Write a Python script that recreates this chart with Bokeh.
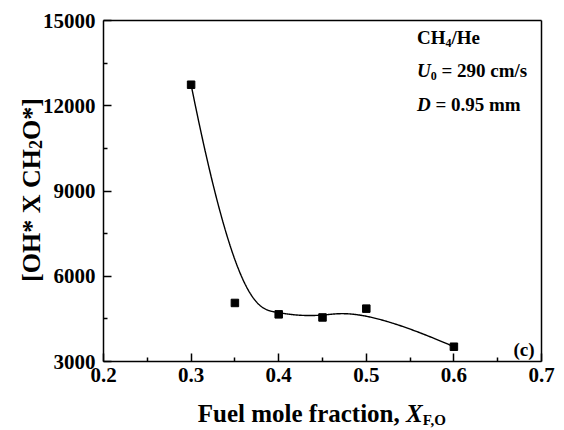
import numpy as np
from bokeh.plotting import figure
from bokeh.models import Label, FixedTicker, Range1d, LinearAxis
from bokeh.embed import file_html
from bokeh.resources import INLINE

# Measured OH* x CH2O* product against fuel mole fraction (CH4/He, U0 = 290 cm/s, D = 0.95 mm)
fuel_fraction = [0.30, 0.35, 0.40, 0.45, 0.50, 0.60]
oh_ch2o_product = [12740, 5060, 4660, 4550, 4860, 3520]

x_major = [0.2, 0.3, 0.4, 0.5, 0.6, 0.7]
x_minor = [0.25, 0.35, 0.45, 0.55, 0.65]
y_major = [3000, 6000, 9000, 12000, 15000]
y_minor = [4500, 7500, 10500, 13500]

FONT = "Liberation Serif"

# Canvas and plot-box geometry (pixels)
W, H = 564, 430
BL, BR, BT, BB = 103, 541, 20, 361

# The frame spans the whole canvas; the ranges are chosen so the data box lands
# on the rectangle above and the axes are pinned to its edges.
x0, x1 = x_major[0], x_major[-1]
y0, y1 = y_major[0], y_major[-1]
kx = (x1 - x0) / (BR - BL)
ky = (y1 - y0) / (BB - BT)
x_range = Range1d(x0 - BL * kx, x1 + (W - BR) * kx)
y_range = Range1d(y0 - (H - BB) * ky, y1 + BT * ky)


def bspline(cx, cy, degree=3, n=400):
    """Clamped uniform B-spline using the points as control points."""
    ctrl = np.column_stack([cx, cy]).astype(float)
    m = len(ctrl)
    inner = np.linspace(0.0, 1.0, m - degree + 1)
    knots = np.concatenate([[0.0] * degree, inner, [1.0] * degree])
    t = np.linspace(0.0, 1.0, n)
    N = np.zeros((n, len(knots) - 1))
    for i in range(len(knots) - 1):
        N[:, i] = (knots[i] <= t) & (t < knots[i + 1])
    N[-1, :] = 0.0
    N[-1, m - 1] = 1.0
    for p in range(1, degree + 1):
        Nn = np.zeros((n, len(knots) - 1 - p))
        for i in range(len(knots) - 1 - p):
            d1 = knots[i + p] - knots[i]
            d2 = knots[i + p + 1] - knots[i + 1]
            a = (t - knots[i]) / d1 * N[:, i] if d1 > 0 else 0.0
            b = (knots[i + p + 1] - t) / d2 * N[:, i + 1] if d2 > 0 else 0.0
            Nn[:, i] = a + b
        N = Nn
    pts = N @ ctrl
    return pts[:, 0], pts[:, 1]


# Advance widths (1/1000 em) of the bold serif face, used to lay out mixed runs
BOLD = {" ": 250, "*": 500, "[": 333, "]": 333, "O": 778, "H": 778, "X": 722,
        "C": 722, "F": 611, "u": 556, "e": 444, "l": 278, "m": 833, "o": 500,
        "f": 333, "r": 444, "a": 500, "c": 444, "t": 333, "i": 278, "n": 556,
        ",": 250, "(": 333, ")": 333, "/": 278, "=": 570, ".": 250, "s": 389,
        "U": 722, "D": 722}
BOLD_ITALIC = {"X": 667, "U": 722, "D": 722}
BASELINE_FIX = -6  # nudges Bokeh's alphabetic baseline onto the intended pixel row


def text_width(s, size, italic=False):
    total = 0
    for ch in s:
        if italic and ch in BOLD_ITALIC:
            total += BOLD_ITALIC[ch]
        elif ch.isdigit():
            total += 500
        else:
            total += BOLD.get(ch, 500)
    return total * size / 1000.0


def add_runs(p, runs, cx, cy, angle=0.0, align="left"):
    """Lay out (text, size, italic, baseline_shift) runs one after another."""
    total = sum(text_width(t, s, it) for t, s, it, _ in runs)
    offset = {"center": -total / 2, "right": -total}.get(align, 0.0)
    for text, size, italic, shift in runs:
        lead = len(text) - len(text.lstrip(" "))
        offset += text_width(" " * lead, size, italic)
        body = text.lstrip(" ")
        if angle == 0.0:
            px, py = cx + offset, cy + shift + BASELINE_FIX
        else:
            # a quarter turn: the run goes upwards and "down" points right
            px, py = cx + shift + BASELINE_FIX, cy - offset
        p.add_layout(Label(x=px, y=H - py, x_units="screen", y_units="screen",
                           text=body, angle=angle,
                           text_font=FONT,
                           text_font_style="bold italic" if italic else "bold",
                           text_font_size=f"{size}px", text_color="black",
                           text_align="left", text_baseline="alphabetic"))
        offset += text_width(body, size, italic)


p = figure(width=W, height=H, output_backend="svg", toolbar_location=None,
           x_range=x_range, y_range=y_range,
           min_border_left=0, min_border_right=0,
           min_border_top=0, min_border_bottom=0)
p.background_fill_color = "white"
p.border_fill_color = "white"
p.outline_line_color = None
p.grid.visible = False


def style_axis(ax):
    ax.axis_line_width = 1.5
    ax.axis_line_color = "black"
    ax.major_tick_in = 8
    ax.major_tick_out = 0
    ax.minor_tick_in = 4
    ax.minor_tick_out = 0
    ax.major_tick_line_width = 1.5
    ax.minor_tick_line_width = 1.5
    ax.major_label_text_font = FONT
    ax.major_label_text_font_style = "bold"
    ax.major_label_text_font_size = "21px"
    ax.major_label_text_color = "black"


xa, ya = p.xaxis[0], p.yaxis[0]
xa.ticker = FixedTicker(ticks=x_major, minor_ticks=x_minor)
ya.ticker = FixedTicker(ticks=y_major, minor_ticks=y_minor)
xa.fixed_location = y0
ya.fixed_location = x0
xa.bounds = (x0, x1)
ya.bounds = (y0, y1)
style_axis(xa)
style_axis(ya)
xa.major_label_standoff = 6
ya.major_label_standoff = 8

# Plain top and right edges close the box
top = LinearAxis(fixed_location=y1, bounds=(x0, x1), ticker=FixedTicker(ticks=[]))
right = LinearAxis(fixed_location=x1, bounds=(y0, y1), ticker=FixedTicker(ticks=[]))
for ax in (top, right):
    style_axis(ax)
    ax.major_tick_in = 0
    ax.minor_tick_in = 0
p.add_layout(top, "above")
p.add_layout(right, "right")

# Smooth B-spline through the measured points, then the points themselves
bx, by = bspline(fuel_fraction, oh_ch2o_product)
p.line(bx, by, line_color="black", line_width=1.4)
p.scatter(fuel_fraction, oh_ch2o_product, marker="square", size=7.5,
          fill_color="black", line_color="black")

# Axis titles
add_runs(p, [("Fuel mole fraction, ", 25, False, 0),
             ("X", 25, True, 0),
             ("F,O", 15, False, 6)], (BL + BR) / 2, 419, align="center")
add_runs(p, [("[OH* X CH", 26, False, 0),
             ("2", 18, False, 4),
             ("O*]", 26, False, 0)], 37, (BT + BB) / 2 - 1, angle=np.pi / 2,
         align="center")

# Conditions in the upper right corner
add_runs(p, [("CH", 19, False, 0), ("4", 12, False, 5), ("/He", 19, False, 0)],
         416.5, 43)
add_runs(p, [("U", 19, True, 0), ("0", 12, False, 5), (" = 290 cm/s", 19, False, 0)],
         416.5, 76)
add_runs(p, [("D", 19, True, 0), (" = 0.95 mm", 19, False, 0)], 416.5, 110)

# Panel tag
add_runs(p, [("(c)", 19, False, 0)], 534, 355, align="right")

open("out.html", "w").write(file_html(p, INLINE))
